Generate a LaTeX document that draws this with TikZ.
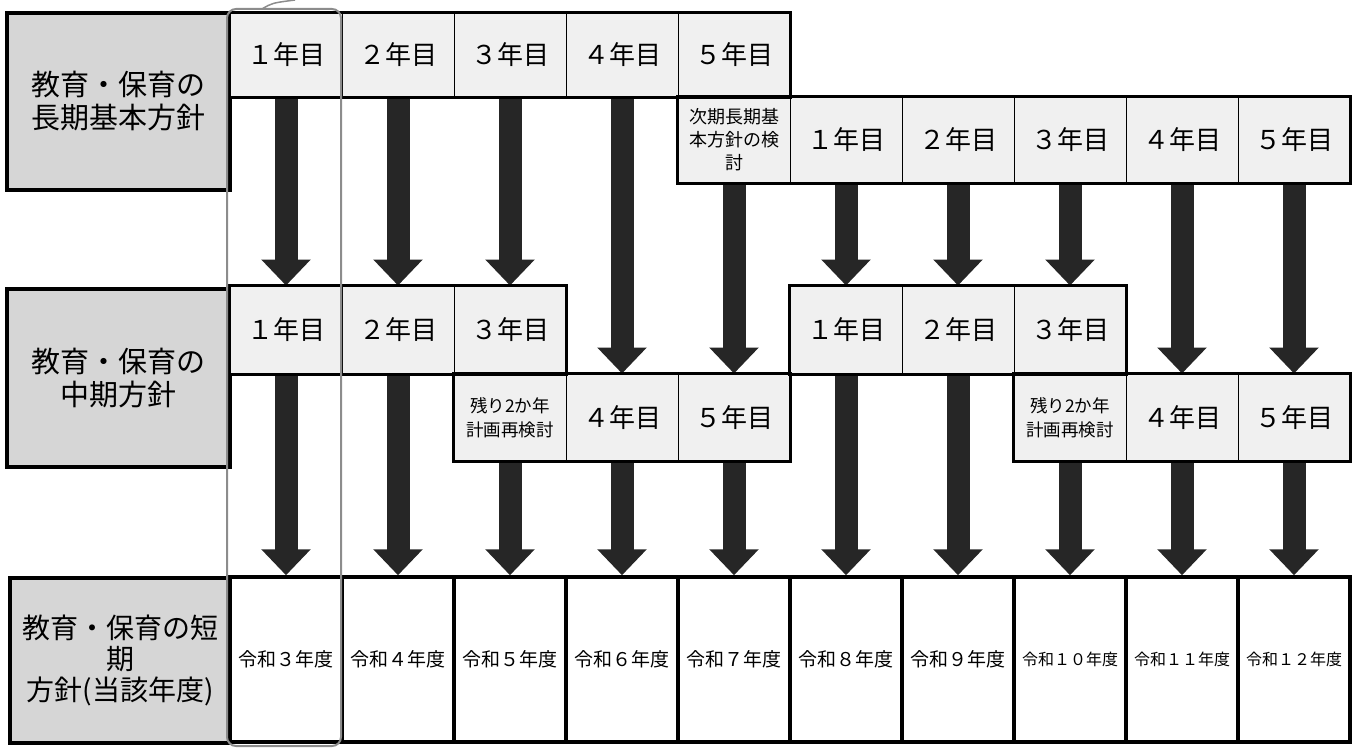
\documentclass[tikz,border=0pt]{standalone}
\usepackage{fontspec}
\setmainfont{Noto Sans CJK JP}
\usetikzlibrary{arrows.meta}

\begin{document}
\begin{tikzpicture}[x=1pt,y=-1pt,
    sel/.style={draw,line width=1pt,fill=black!6,minimum width=112pt,inner sep=0pt,align=center,font=\fontsize{26}{30}\selectfont},
    judul/.style={draw,line width=3.5pt,fill=black!16,inner sep=0pt,align=center,font=\fontsize{29}{33}\selectfont},
    bingkai/.style={line width=3.5pt},
    panah/.style={line width=23pt,draw=black!85,-{Triangle[width=48pt,length=26pt]}}]
    \useasboundingbox (0,0) rectangle (1359,749);

    % Baris atas (jangka panjang)
    \node[judul,minimum width=223pt,minimum height=177pt] (jA) at (118.5,101.5) {教育・保育の\\長期基本方針};
    \foreach \i/\n in {1/１,2/２,3/３,4/４,5/５}
        \node[sel,minimum height=84pt] (lA\i) at ({174+112*\i},55) {\n 年目};
    \node[sel,minimum height=86pt,font=\fontsize{18}{23}\selectfont] (lN) at (734,140) {次期長期基\\本方針の検\\討};
    \foreach \i/\n in {1/１,2/２,3/３,4/４,5/５}
        \node[sel,minimum height=86pt] (lB\i) at ({734+112*\i},140) {\n 年目};

    % Baris tengah (jangka menengah)
    \node[judul,minimum width=223pt,minimum height=178pt] (jB) at (118.5,378) {教育・保育の\\中期方針};
    \foreach \i/\n in {1/１,2/２,3/３}
        \node[sel,minimum height=88pt] (mA\i) at ({174+112*\i},330) {\n 年目};
    \node[sel,minimum height=87pt,font=\fontsize{17.5}{24}\selectfont] (mR1) at (510,417.5) {残り2か年\\計画再検討};
    \node[sel,minimum height=87pt] (mA4) at (622,417.5) {４年目};
    \node[sel,minimum height=87pt] (mA5) at (734,417.5) {５年目};
    \foreach \i/\n in {1/１,2/２,3/３}
        \node[sel,minimum height=88pt] (mB\i) at ({734+112*\i},330) {\n 年目};
    \node[sel,minimum height=87pt,font=\fontsize{17.5}{24}\selectfont] (mR2) at (1070,417.5) {残り2か年\\計画再検討};
    \node[sel,minimum height=87pt] (mB4) at (1182,417.5) {４年目};
    \node[sel,minimum height=87pt] (mB5) at (1294,417.5) {５年目};

    % Baris bawah (jangka pendek)
    \node[judul,minimum width=220pt,minimum height=165pt,font=\fontsize{28}{31}\selectfont] (jC) at (120,660.5) {教育・保育の短\\期\\方針(当該年度)};
    \foreach \i/\t in {1/令和３年度,2/令和４年度,3/令和５年度,4/令和６年度,5/令和７年度,6/令和８年度,7/令和９年度}
        \node[sel,fill=white,line width=3.5pt,minimum height=165pt,font=\fontsize{19}{23}\selectfont] (b\i) at ({174+112*\i},659.5) {\t};
    \foreach \i/\t in {8/令和１０年度,9/令和１１年度,10/令和１２年度}
        \node[sel,fill=white,line width=3.5pt,minimum height=165pt,font=\fontsize{16}{20}\selectfont] (b\i) at ({174+112*\i},659.5) {\t};

    % Panah
    \foreach \a/\b in {lA1/mA1,lA2/mA2,lA3/mA3,lA4/mA4,lN/mA5,lB1/mB1,lB2/mB2,lB3/mB3,lB4/mB4,lB5/mB5}
        \draw[panah] (\a.south) -- (\b.north);
    \foreach \a/\b in {mA1/b1,mA2/b2,mR1/b3,mA4/b4,mA5/b5,mB1/b6,mB2/b7,mR2/b8,mB4/b9,mB5/b10}
        \draw[panah] (\a.south) -- (\b.north);

    % Bingkai tebal
    \draw[bingkai] (lA1.north west) rectangle (lA5.south east);
    \draw[bingkai] (lN.north west) rectangle (lB5.south east);
    \draw[bingkai] (mA1.north west) rectangle (mA3.south east);
    \draw[bingkai] (mR1.north west) rectangle (mA5.south east);
    \draw[bingkai] (mB1.north west) rectangle (mB3.south east);
    \draw[bingkai] (mR2.north west) rectangle (mB5.south east);

    % Sorotan tahun pertama
    \draw[black!45,line width=2pt,rounded corners=9pt] (227,9) rectangle (341,746);
    \draw[black!45,line width=1.5pt] (262,9) .. controls (272,3) .. (295,0);
\end{tikzpicture}
\end{document}
